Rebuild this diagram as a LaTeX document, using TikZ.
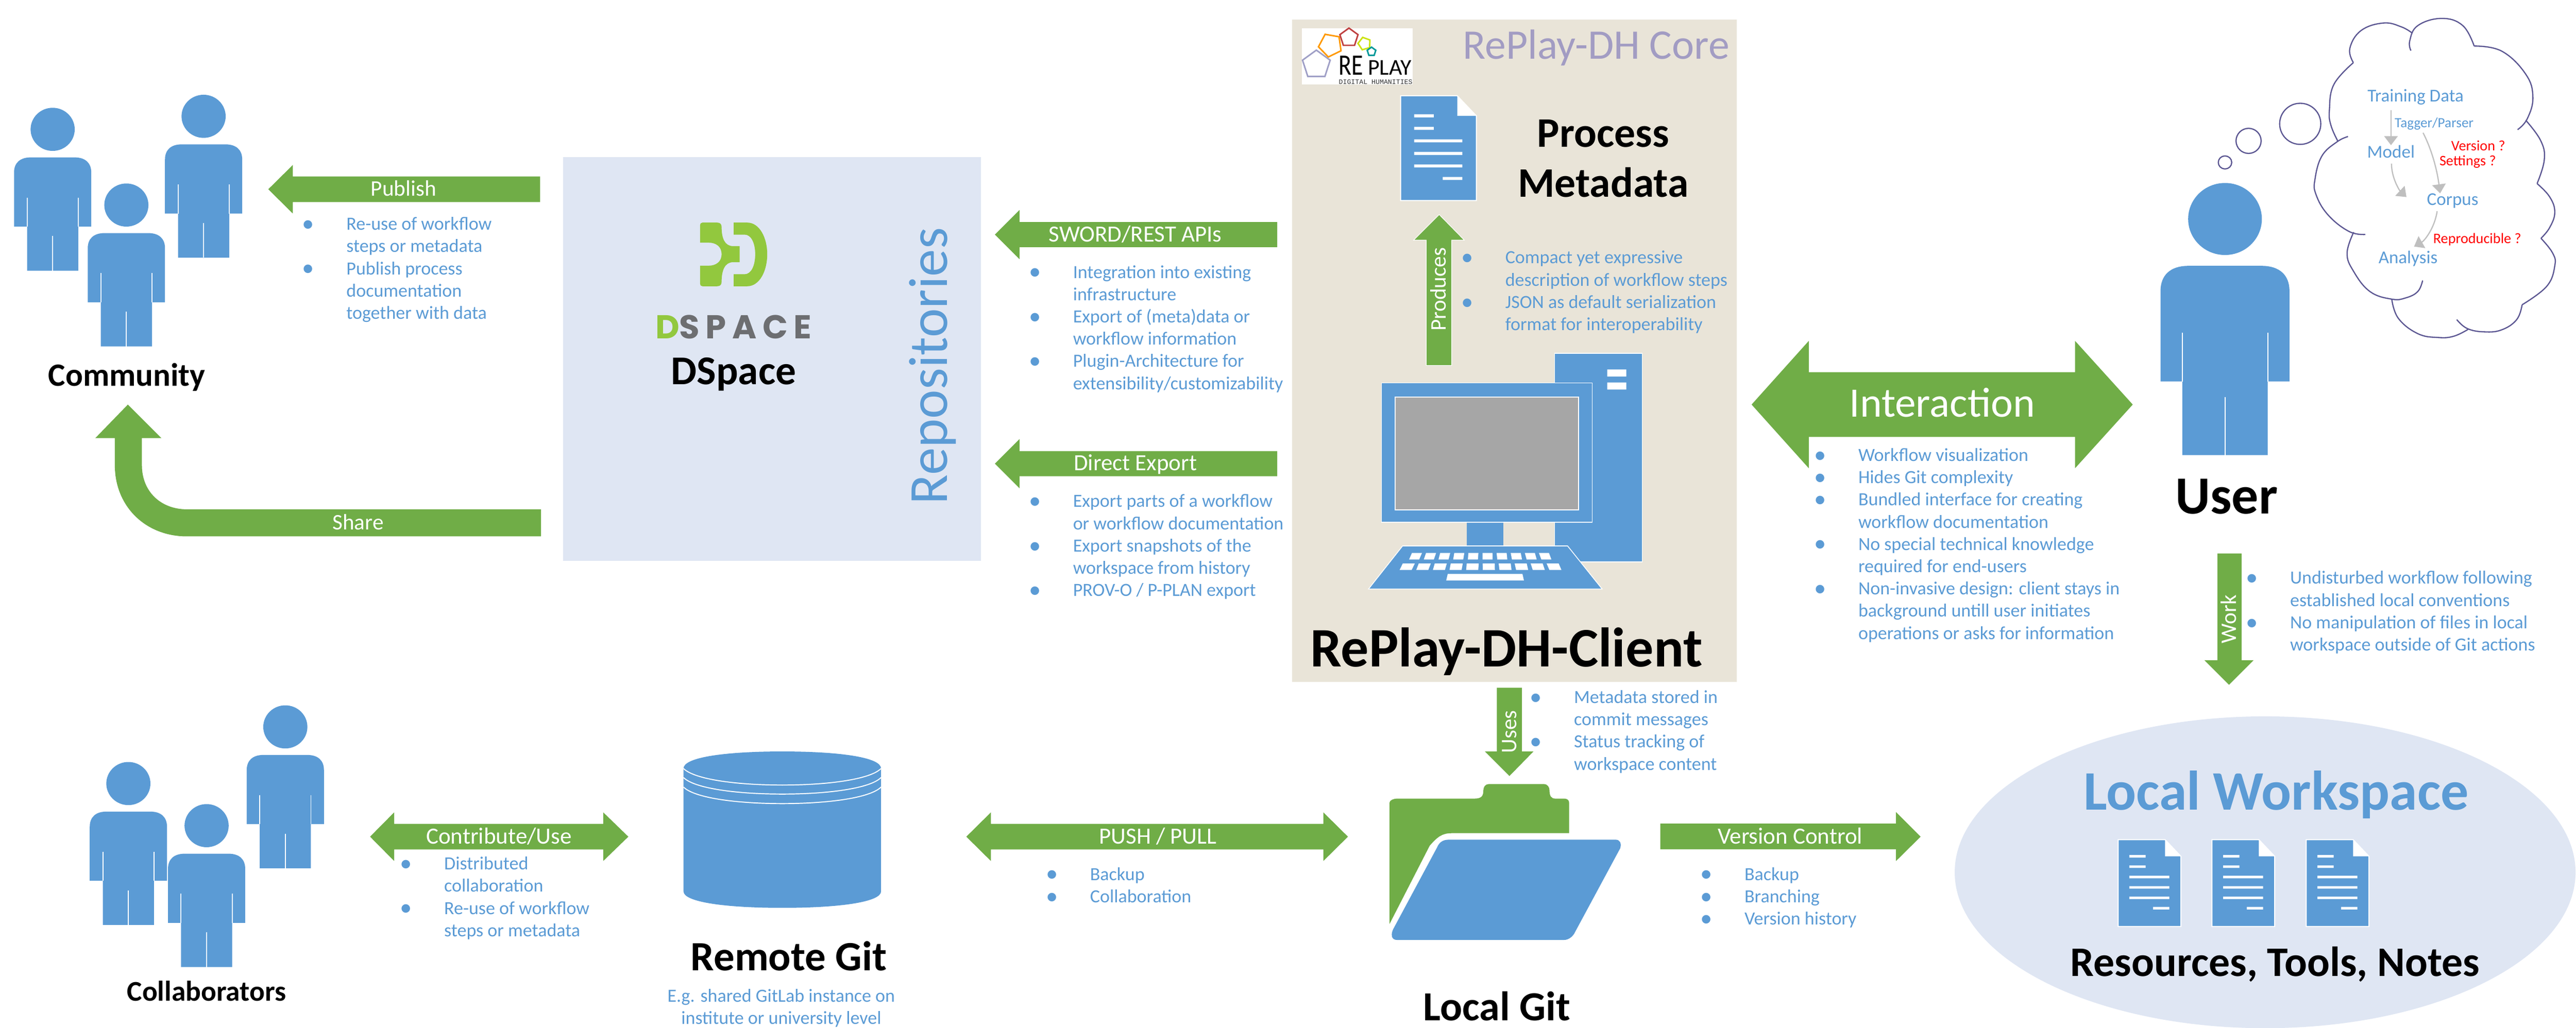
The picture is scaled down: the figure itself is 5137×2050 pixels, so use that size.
\documentclass[tikz,border=0pt]{standalone}
\usepackage{fontspec}
\usepackage{graphicx}
\setmainfont{Carlito}
\newfontfamily\dsfont{Poppins}[LetterSpace=18]
\newfontfamily\logomono{Liberation Mono}
\usetikzlibrary{arrows.meta,shapes.geometric,calc}
\definecolor{rblue}{HTML}{5B9BD5}
\definecolor{rgreen}{HTML}{70AD47}
\definecolor{paleblue}{HTML}{DFE6F3}
\definecolor{beige}{HTML}{E9E4D8}
\definecolor{corepurple}{HTML}{A29CC3}
\definecolor{cloudline}{HTML}{5A5591}
\definecolor{thinkgrey}{HTML}{BFBFBF}
\definecolor{dsgreen}{HTML}{92C83E}
\definecolor{dsgrey}{HTML}{6D6E71}
% bullet lines: bullet hangs left of the text
\newcommand\bu{\strut\llap{\raisebox{-.7pt}{\fontsize{12}{12}\selectfont\textbullet}\hspace{16pt}}}
\newcommand\blockL[6]{\fill[rgreen] (#1,#4) -- (#2,{#4-#5}) -- (#2,{#4-#6}) -- (#3,{#4-#6}) -- (#3,{#4+#6}) -- (#2,{#4+#6}) -- (#2,{#4+#5}) -- cycle;}
\newcommand\blockD[7]{\fill[rgreen] (#1,#5) -- (#2,{#5-#6}) -- (#2,{#5-#7}) -- (#3,{#5-#7}) -- (#3,{#5-#6}) -- (#4,#5) -- (#3,{#5+#6}) -- (#3,{#5+#7}) -- (#2,{#5+#7}) -- (#2,{#5+#6}) -- cycle;}
\newcommand\personicon[3]{%
  \begin{scope}[shift={(#1,#2)},scale=#3]
    \fill[rblue] (0,43) ellipse [x radius=44,y radius=43];
    \fill[rblue] (-77,237) -- (-77,129) .. controls (-77,110) and (-65,99) .. (-44,99) -- (44,99) .. controls (65,99) and (77,110) .. (77,129) -- (77,237) -- (51,237) -- (51,325) -- (-51,325) -- (-51,237) -- cycle;
    \draw[white,line width=.5pt] (-51,179) -- (-51,237) (51,179) -- (51,237) (0,256) -- (0,325);
  \end{scope}}
\newcommand\sheet[3]{%
  \begin{scope}[shift={(#1,#2)},scale=#3]
    \fill[rblue,draw=white,line width=.5pt] (0,0) -- (113,0) -- (151,40) -- (151,209) -- (0,209) -- cycle;
    \fill[white] (113,0) -- (151,40) -- (113,40) -- cycle;
    \fill[white] (27,37) rectangle (66,43) (27,62) rectangle (66,68) (27,87) rectangle (123,93) (27,112) rectangle (123,118) (27,137) rectangle (123,143) (84,162) rectangle (123,168);
  \end{scope}}
\tikzset{
  list/.style={anchor=north west,inner sep=0pt,align=left,text=rblue,yshift=4.75pt,font=\fontsize{9.25}{11.1}\selectfont},
  armlabel/.style={anchor=base,inner sep=0pt,text=white,font=\fontsize{11.1}{13}\selectfont},
  armwide/.style={armlabel,font=\fontsize{11.55}{13}\selectfont},
  vlabel/.style={armlabel,rotate=90},
  head/.style={anchor=base,inner sep=0pt,text=black,font=\fontsize{#1}{#1}\selectfont\bfseries},
  thinktext/.style={anchor=center,inner sep=0pt,text=rblue,font=\fontsize{9}{11}\selectfont},
  asktext/.style={anchor=center,inner sep=0pt,text=red,font=\fontsize{7.25}{9}\selectfont},
  thinkarrow/.style={draw=thinkgrey,line width=.6pt,-{Triangle[width=6.75pt,length=4.5pt]}},
  cloudstroke/.style={draw=cloudline,line width=.6pt},
  penta/.style={regular polygon,regular polygon sides=5,inner sep=0pt,line width=.75pt,draw=#1},
}
\begin{document}
\begin{tikzpicture}[x=0.25pt,y=-0.25pt]
\useasboundingbox (0,0) rectangle (5137,2050);
\fill[white] (0,0) rectangle (5137,2050);

% ---- panels
\fill[paleblue] (1123,313) rectangle (1956,1119);
\fill[beige] (2577,39) rectangle (3463,1360);
\fill[paleblue] (4517,1740) ellipse [x radius=619,y radius=311];

% ---- community
\personicon{105}{215}{1}
\personicon{406}{189}{1}
\personicon{252}{366}{1}
\node[head=16.2] (community) at (253,770) {Community};

\blockL{535}{584}{1077}{377.5}{48.5}{25.5}
\node[armlabel] (publish) at (805,391) {Publish};
\node[list] (publishlist) at (690,446) {\bu Re-use of workflow\\steps or metadata\\\bu Publish process\\documentation\\together with data};

\fill[rgreen] (1079,1016) -- (373,1016) .. controls (320,1016) and (283,980) .. (283,928) -- (283,874) -- (322,874) -- (255,807) -- (190,874) -- (229,874) -- (229,928) .. controls (229,1010) and (290,1070) .. (373,1070) -- (1079,1070) -- cycle;
\node[armlabel] (share) at (714,1057) {Share};

% ---- DSpace
\fill[dsgreen] (1396,449) .. controls (1396,446) and (1398,444) .. (1401,444) -- (1430,444) .. controls (1436,444) and (1439,447) .. (1439,453) .. controls (1439,475) and (1445,491) .. (1462,491) -- (1475,491) -- (1475,523) -- (1462,523) .. controls (1445,523) and (1439,540) .. (1439,562) .. controls (1439,568) and (1436,571) .. (1430,571) -- (1401,571) .. controls (1398,571) and (1396,569) .. (1396,566) -- (1396,530) -- (1413,530) .. controls (1428,530) and (1439,522) .. (1439,507) .. controls (1439,492) and (1428,484) .. (1413,484) -- (1396,484) -- cycle;
\fill[dsgreen] (1463,444) -- (1490,444) .. controls (1515,444) and (1530,475) .. (1530,507) .. controls (1530,540) and (1515,571) .. (1490,571) -- (1463,571) -- (1463,547) -- (1485,547) .. controls (1498,547) and (1506,530) .. (1506,507) .. controls (1506,485) and (1498,468) .. (1485,468) -- (1463,468) -- cycle;
\node[anchor=base,inner sep=0pt,font=\dsfont\fontsize{16.5}{18}\selectfont\bfseries,text=dsgrey] (dslogo) at (1463,675) {{\color{dsgreen}D}SPACE};
\node[head=20.4] (dspace) at (1463,767) {DSpace};
\node[anchor=base,rotate=90,inner sep=0pt,text=rblue,font=\fontsize{27.5}{30}\selectfont] (repos) at (1889,730) {Repositories};

% ---- repository arrows
\blockL{1984}{2033}{2547}{468}{49}{25}
\node[armwide] (sword) at (2264,482) {SWORD/REST APIs};
\node[list] (swordlist) at (2139,542) {\bu Integration into existing\\infrastructure\\\bu Export of (meta)data or\\workflow information\\\bu Plugin-Architecture for\\extensibility/customizability};
\blockL{1984}{2033}{2547}{925}{49}{25}
\node[armwide] (direct) at (2264,939) {Direct Export};
\node[list] (directlist) at (2139,999) {\bu Export parts of a workflow\\or workflow documentation\\\bu Export snapshots of the\\workspace from history\\\bu PROV-O / P-PLAN export};

% ---- RePlay logo
\fill[white] (2596,56) rectangle (2817,168);
\node[penta=blue!25!gray!60,minimum size=14.5pt] (pa) at (2625,129) {};
\node[penta=orange!80!yellow,minimum size=12pt,shape border rotate=170] (pb) at (2653,90) {};
\node[penta=red!50!gray,minimum size=9.5pt] (pc) at (2690,75) {};
\node[penta=yellow!80!green,minimum size=6.5pt,shape border rotate=160] (pd) at (2721,87) {};
\node[penta=teal!80!cyan,minimum size=4.5pt] (pe) at (2735,103) {};
\node[anchor=base west,inner sep=0pt,text=black,font=\fontsize{14.75}{15}\selectfont] (re) at (2669,149) {\scalebox{.8}[1]{RE}};
\node[anchor=base west,inner sep=0pt,text=black,font=\fontsize{11.25}{12}\selectfont] (play) at (2727,149) {PLAY};
\node[anchor=base west,inner sep=0pt,text=black!80,font=\logomono\fontsize{3.4}{4}\selectfont] (dh) at (2669,168) {DIGITAL HUMANITIES};

% ---- core
\node[anchor=base,inner sep=0pt,text=corepurple,font=\fontsize{21}{22}\selectfont] (core) at (3183,118) {RePlay-DH Core};
\sheet{2793}{191}{1}
\node[anchor=north,inner sep=0pt,align=center,text=black,font=\fontsize{21}{25}\selectfont\bfseries] (process) at (3197,222) {\strut Process\\Metadata};

\fill[rgreen,draw=white,line width=.3pt] (2870,428) -- (2920,479) -- (2895,479) -- (2895,729) -- (2844,729) -- (2844,479) -- (2819,479) -- cycle;
\node[vlabel] (produces) at (2883,577) {Produces};
\node[list] (produceslist) at (3001,513) {\bu Compact yet expressive\\description of workflow steps\\\bu JSON as default serialization\\format for interoperability};

% ---- computer
\fill[rblue,draw=white,line width=.4pt] (3100,705) rectangle (3275,1121);
\fill[white] (3205,737) rectangle (3243,751) (3205,763) rectangle (3243,777);
\fill[rblue] (2925,1040) rectangle (2998,1091);
\fill[rblue,draw=white,line width=.4pt] (2755,764) rectangle (3175,1042);
\fill[black!35,draw=white,line width=.4pt] (2782,792) rectangle (3148,1017);
\fill[rblue,draw=white,line width=.4pt] (2797,1089) -- (3126,1089) -- (3195,1175) -- (2729,1175) -- cycle;
\foreach \i in {0,...,9}{
  \pgfmathsetmacro\xa{2810+29.3*\i}
  \pgfmathsetmacro\ska{(\xa+10-2962)*0.04}
  \fill[white] (\xa,1116) -- ({\xa+20},1116) -- ({\xa+20-\ska},1103) -- ({\xa-\ska},1103) -- cycle;
  \pgfmathsetmacro\xb{2791+33.2*\i}
  \pgfmathsetmacro\skb{(\xb+12-2962)*0.04}
  \fill[white] (\xb,1137) -- ({\xb+24},1137) -- ({\xb+24-\skb},1124) -- ({\xb-\skb},1124) -- cycle;
}
\fill[white] (2884,1158) -- (3039,1158) -- (3036,1145) -- (2887,1145) -- cycle;
\node[head=27.8] (client) at (3004,1330) {RePlay-DH-Client};

% ---- interaction
\blockD{3493}{3607}{4138}{4253}{807}{127}{64.5}
\node[anchor=base,inner sep=0pt,text=white,font=\fontsize{20.9}{22}\selectfont] (interaction) at (3873,832) {Interaction};
\node[list] (interactionlist) at (3705,907) {\bu Workflow visualization\\\bu Hides Git complexity\\\bu Bundled interface for creating\\workflow documentation\\\bu No special technical knowledge\\required for end-users\\\bu Non-invasive design: client stays in\\background untill user initiates\\operations or asks for information};

% ---- user
\personicon{4437}{365}{1.67}
\node[head=26.75] (user) at (4440,1025) {User};
\fill[rgreen] (4422,1104) -- (4470,1104) -- (4470,1317) -- (4494,1317) -- (4445,1366) -- (4396,1317) -- (4422,1317) -- cycle;
\node[vlabel] (work) at (4459,1235) {Work};
\node[list] (worklist) at (4566,1152) {\bu Undisturbed workflow following\\established local conventions\\\bu No manipulation of files in local\\workspace outside of Git actions};

% ---- thought cloud
\draw[cloudstroke] (4437,324) ellipse [x radius=13.4,y radius=13];
\draw[cloudstroke] (4484,281) ellipse [x radius=25,y radius=25];
\draw[cloudstroke] (4587,247) ellipse [x radius=41,y radius=41];
\begin{scope}[shift={(4200,0)},x=0.1494pt,y=-0.1275pt]
  \draw[cloudstroke] plot[smooth,tension=.7] coordinates {(825,245) (813,190) (850,120) (925,90) (985,105) (1022,130)};
  \draw[cloudstroke] plot[smooth,tension=.7] coordinates {(1017,198) (1013,160) (1040,100) (1120,72) (1190,100) (1228,180)};
  \draw[cloudstroke] plot[smooth,tension=.7] coordinates {(1228,180) (1320,200) (1400,290) (1424,380) (1405,465) (1373,507)};
  \draw[cloudstroke] plot[smooth,tension=.7] coordinates {(1400,470) (1450,550) (1462,625) (1438,718)};
  \draw[cloudstroke] plot[smooth,tension=.7] coordinates {(1438,718) (1480,770) (1497,830) (1480,890) (1451,932)};
  \draw[cloudstroke] plot[smooth,tension=.7] coordinates {(1451,932) (1490,990) (1497,1040) (1470,1120) (1388,1192)};
  \draw[cloudstroke] plot[smooth,tension=.7] coordinates {(1388,1192) (1370,1250) (1320,1290) (1262,1298) (1205,1285) (1170,1250)};
  \draw[cloudstroke] plot[smooth,tension=.7] coordinates {(1208,1288) (1160,1315) (1108,1320) (1040,1305) (975,1245) (953,1170)};
  \draw[cloudstroke] plot[smooth,tension=.7] coordinates {(1056,1097) (1040,1140) (1000,1165) (953,1170) (880,1140) (825,1060) (804,990) (826,908)};
  \draw[cloudstroke] plot[smooth,tension=.7] coordinates {(865,917) (810,905) (740,840) (700,760) (697,700) (720,610) (770,555) (807,534)};
  \draw[cloudstroke] plot[smooth,tension=.7] coordinates {(773,552) (750,490) (745,430) (760,330) (825,245)};
\end{scope}
\node[thinktext] (train) at (4817,194) {Training Data};
\node[thinktext,font=\fontsize{7}{9}\selectfont] (tagger) at (4854,247) {Tagger/Parser};
\node[thinktext] (model) at (4768,303) {Model};
\node[thinktext] (corpus) at (4891,401) {Corpus};
\node[thinktext] (analysis) at (4802,516) {Analysis};
\node[asktext] (version) at (4942,291) {Version ?};
\node[asktext] (settings) at (4921,323) {Settings ?};
\node[asktext] (repro) at (4940,478) {Reproducible ?};
\draw[thinkarrow,shorten <=2.5pt] (train.south -| model.north) -- (model.north);
\draw[thinkarrow] ($(tagger.south)+(-22,5)$) .. controls (4850,300) and (4860,340) .. ($(corpus.north)+(-25,0)$);
\draw[thinkarrow] ($(model.south)+(1,10)$) .. controls (4769,355) and (4785,380) .. ($(corpus.west)+(-40,-8)$);
\draw[thinkarrow] ($(corpus.south)+(-31,5)$) .. controls (4855,455) and (4835,480) .. ($(analysis.north)+(12,-8)$);

% ---- uses
\fill[rgreen] (2985,1372) -- (3035,1372) -- (3035,1499) -- (3058,1499) -- (3010,1548) -- (2961,1499) -- (2985,1499) -- cycle;
\node[vlabel] (uses) at (3024,1460) {Uses};
\node[list] (useslist) at (3138,1390) {\bu Metadata stored in\\commit messages\\\bu Status tracking of\\workspace content};

% ---- folder
\fill[rgreen] (2771,1843) -- (2771,1601) .. controls (2771,1596) and (2780,1593) .. (2786,1593) -- (2941,1593) .. controls (2955,1593) and (2958,1587) .. (2958,1577) .. controls (2958,1570) and (2962,1564) .. (2969,1564) -- (3078,1564) .. controls (3086,1564) and (3090,1570) .. (3090,1577) .. controls (3090,1587) and (3093,1593) .. (3101,1593) -- (3119,1593) .. controls (3125,1593) and (3129,1596) .. (3129,1601) -- (3129,1662) -- (2895,1662) .. controls (2875,1662) and (2866,1670) .. (2851,1687) -- cycle;
\fill[rblue] (2889,1675) -- (3222,1675) .. controls (3230,1675) and (3234,1682) .. (3231,1692) -- (3141,1859) .. controls (3137,1868) and (3128,1875) .. (3119,1875) -- (2786,1875) .. controls (2777,1875) and (2772,1868) .. (2778,1854) -- (2866,1690) .. controls (2870,1680) and (2878,1675) .. (2889,1675) -- cycle;
\node[head=20.6] (localgit) at (2985,2036) {Local Git};

% ---- remote git
\fill[rblue] (1363,1533) -- (1363,1778) .. controls (1363,1800) and (1450,1811) .. (1560,1811) .. controls (1670,1811) and (1757,1800) .. (1757,1778) -- (1757,1533) .. controls (1757,1510) and (1670,1499) .. (1560,1499) .. controls (1450,1499) and (1363,1510) .. (1363,1533) -- cycle;
\draw[white,line width=.5pt] (1363,1533) .. controls (1385,1555) and (1470,1566) .. (1560,1566) .. controls (1650,1566) and (1735,1555) .. (1757,1533);
\draw[white,line width=.5pt] (1363,1551) .. controls (1385,1573) and (1470,1584) .. (1560,1584) .. controls (1650,1584) and (1735,1573) .. (1757,1551);
\draw[white,line width=.5pt] (1363,1570) .. controls (1385,1592) and (1470,1603) .. (1560,1603) .. controls (1650,1603) and (1735,1592) .. (1757,1570);
\node[head=20.8] (remote) at (1573,1936) {Remote Git};
\node[anchor=north,inner sep=0pt,align=center,text=rblue,font=\fontsize{9.25}{11.1}\selectfont] (remotenote) at (1558,1967) {\strut E.g. shared GitLab instance on\\institute or university level};

% ---- collaborators
\personicon{256}{1520}{1}
\personicon{569}{1407}{1}
\personicon{412}{1604}{1}
\node[head=14.25] (collab) at (412,1997) {Collaborators};
\blockD{738}{786}{1203}{1253}{1669}{48.5}{25.5}
\node[armwide] (contribute) at (995,1683) {Contribute/Use};
\node[list] (contributelist) at (885,1722) {\bu Distributed\\collaboration\\\bu Re-use of workflow\\steps or metadata};

% ---- push/pull
\blockD{1927}{1976}{2639}{2688}{1669}{48.5}{25.5}
\node[armwide] (push) at (2309,1683) {PUSH / PULL};
\node[list] (pushlist) at (2173,1743) {\bu Backup\\\bu Collaboration};

% ---- version control
\fill[rgreen] (3830,1669) -- (3781,1717.5) -- (3781,1694) -- (3311,1694) -- (3311,1643) -- (3781,1643) -- (3781,1620) -- cycle;
\node[armwide] (vc) at (3570,1683) {Version Control};
\node[list] (vclist) at (3478,1743) {\bu Backup\\\bu Branching\\\bu Version history};

% ---- workspace
\node[anchor=base,inner sep=0pt,text=rblue,font=\fontsize{27.8}{30}\selectfont\bfseries] (workspace) at (4539,1616) {Local Workspace};
\sheet{4224}{1675}{.828}
\sheet{4411}{1675}{.828}
\sheet{4599}{1675}{.828}
\node[head=21] (resources) at (4537,1947) {Resources, Tools, Notes};
\end{tikzpicture}
\end{document}
